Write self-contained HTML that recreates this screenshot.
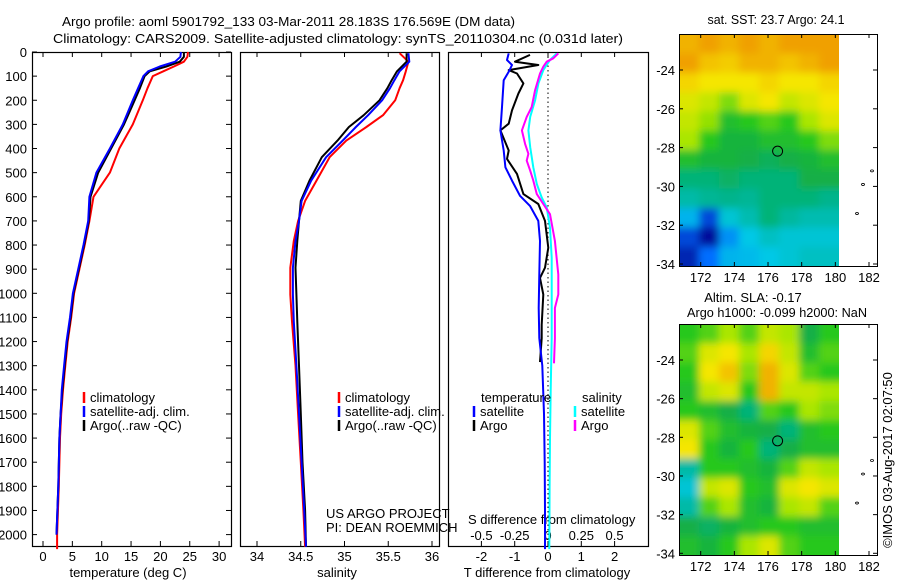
<!DOCTYPE html>
<html><head><meta charset="utf-8"><style>
html,body{margin:0;padding:0;background:#fff;}
svg text{font-family:"Liberation Sans",sans-serif;font-size:13px;fill:#000;}
</style></head><body>
<svg id="fig" width="900" height="580" viewBox="0 0 900 580" xmlns="http://www.w3.org/2000/svg">
<text x="62" y="26" textLength="453" lengthAdjust="spacingAndGlyphs">Argo profile: aoml 5901792_133 03-Mar-2011 28.183S 176.569E (DM data)</text>
<text x="53" y="43" textLength="570" lengthAdjust="spacingAndGlyphs">Climatology: CARS2009. Satellite-adjusted climatology: synTS_20110304.nc (0.031d later)</text>
<g id="p1"></g>
<g id="p2"></g>
<g id="p3"></g>
<g id="m1"></g>
<g id="m2"></g>
<text x="776" y="24" text-anchor="middle" textLength="137" lengthAdjust="spacingAndGlyphs">sat. SST: 23.7 Argo: 24.1</text>
<text x="753" y="302" text-anchor="middle">Altim. SLA: -0.17</text>
<text x="777" y="317" text-anchor="middle" textLength="180" lengthAdjust="spacingAndGlyphs">Argo h1000: -0.099 h2000: NaN</text>
<text transform="translate(892,460) rotate(-90)" text-anchor="middle">©IMOS 03-Aug-2017 02:07:50</text>
</svg>
<script>
// ---- data ----
const depthT = [0,20,40,60,80,100,150,200,300,400,500,600,700,800,900,1000,1100,1200,1300,1400,1500,1600,1800,2000,2060];
const climT  = [24.7,24.6,24.0,22.3,20.5,18.7,17.8,17.0,15.3,13.0,11.4,8.6,7.9,7.1,6.2,5.3,4.8,4.2,3.8,3.4,3.1,2.9,2.7,2.4,2.4];
const satT   = [23.5,23.4,22.5,19.9,17.9,17.1,16.2,15.3,13.6,11.4,9.1,7.9,7.7,6.9,6.0,5.1,4.6,4.0,3.6,3.2,3.0,2.8,2.6,2.3,2.3];
const argoT  = [24.0,24.0,23.3,21.0,18.2,17.3,16.5,15.6,13.8,11.6,9.4,8.1,7.8,7.0,6.1,5.2,4.7,4.1,3.7,3.3,3.0,2.8,2.6,2.3,2.3];
const depthS = [5,40,80,117,150,200,262,311,367,436,533,617,700,783,894,1005,1117,1300,1500,1700,1900,2050];
const climS  = [35.63,35.73,35.70,35.67,35.63,35.58,35.44,35.25,35.02,34.83,34.68,34.55,34.47,34.42,34.38,34.38,34.40,34.44,34.47,34.50,34.53,34.55];
const satS   = [35.73,35.74,35.63,35.57,35.52,35.43,35.27,35.13,34.98,34.79,34.62,34.51,34.48,34.44,34.41,34.41,34.42,34.45,34.48,34.51,34.54,34.56];
const argoS  = [35.71,35.71,35.60,35.54,35.49,35.40,35.22,35.05,34.92,34.74,34.60,34.50,34.48,34.46,34.44,34.45,34.46,34.48,34.50,34.52,34.55,34.56];
const depthDT = [6,33,54,82,117,228,325,408,478,533,596,638,700,783,922,1061,1186,1300,1500,1700,1900,2060];
const satDT   = [-1.18,-1.23,-1.08,-1.18,-1.33,-1.38,-1.43,-1.33,-1.28,-1.08,-0.84,-0.54,-0.29,-0.24,-0.26,-0.28,-0.26,-0.17,-0.12,-0.10,-0.09,-0.09];
const depthAT = [12,40,54,75,89,130,172,242,297,325,408,443,505,589,630,700,811,894,936,1005,1130,1186,1285];
const argoDT  = [-0.54,-0.99,-0.29,-1.18,-0.93,-0.74,-0.89,-1.08,-1.18,-1.43,-1.18,-1.23,-0.93,-0.74,-0.29,-0.09,0.01,-0.09,-0.24,-0.14,-0.19,-0.19,-0.24];
const depthDS = [6,33,75,130,200,269,325,394,478,547,603,644,728,853,1061,1186,1400,1600,1800,2060];
const satDS   = [0.065,0.015,-0.035,-0.072,-0.097,-0.134,-0.147,-0.134,-0.11,-0.084,-0.047,-0.01,0.015,0.028,0.028,0.028,0.02,0.015,0.012,0.01];
const depthAS = [6,26,40,61,89,158,228,269,325,381,422,450,492,533,589,630,672,783,922,1005,1061,1186,1290];
const argoDS  = [0.077,0.04,-0.01,-0.035,-0.06,-0.097,-0.122,-0.16,-0.196,-0.172,-0.147,-0.16,-0.134,-0.11,-0.084,-0.035,0.015,0.052,0.077,0.077,0.052,0.052,0.045];
const depthTicks = [0,100,200,300,400,500,600,700,800,900,1000,1100,1200,1300,1400,1500,1600,1700,1800,1900,2000];
const tTicks = [0,5,10,15,20,25,30];
const sTicks = [34,34.5,35,35.5,36];
const sTickLabels = ["34","34.5","35","35.5","36"];
const dtTicks = [-2,-1,0,1,2];
const dsTicks = [-0.5,-0.25,0,0.25,0.5];
const dsTickLabels = ["-0.5","-0.25","0","0.25","0.5"];
const lonTicks = [172,174,176,178,180,182];
const latTicks = [-24,-26,-28,-30,-32,-34];
const argoLon = 176.569, argoLat = -28.183;
const sstGrid = [
[.78,.80,.78,.80,.78,.80,.80,.80],
[.80,.76,.75,.78,.78,.76,.78,.80],
[.74,.72,.72,.72,.74,.72,.72,.74],
[.70,.68,.64,.70,.72,.68,.70,.72],
[.68,.65,.58,.60,.62,.60,.66,.70],
[.66,.60,.56,.56,.58,.58,.60,.64],
[.58,.56,.56,.55,.53,.55,.56,.58],
[.50,.50,.52,.50,.50,.50,.55,.55],
[.45,.47,.48,.47,.50,.50,.50,.48],
[.35,.20,.40,.44,.50,.46,.44,.44],
[.20,.12,.30,.38,.42,.40,.40,.40],
[.15,.25,.35,.36,.38,.40,.42,.42]];
const slaGrid = [
[.60,.62,.66,.62,.68,.66,.55,.60],
[.62,.70,.72,.66,.74,.68,.58,.62],
[.60,.72,.76,.64,.78,.70,.62,.60],
[.58,.68,.70,.60,.78,.68,.68,.66],
[.60,.58,.55,.50,.62,.60,.66,.64],
[.70,.62,.58,.56,.55,.50,.58,.60],
[.72,.60,.56,.60,.50,.55,.58,.58],
[.45,.60,.60,.58,.56,.62,.68,.66],
[.40,.68,.70,.60,.58,.70,.72,.70],
[.45,.62,.66,.58,.56,.66,.68,.62],
[.55,.52,.56,.58,.60,.60,.58,.58],
[.58,.56,.60,.66,.70,.62,.60,.60]];

// ---- helpers ----
const NS = "http://www.w3.org/2000/svg";
function mk(parent, tag, attrs, txt){ const e=document.createElementNS(NS,tag); for(const k in attrs) e.setAttribute(k,attrs[k]); if(txt!==undefined) e.textContent=txt; parent.appendChild(e); return e; }
const TOP=52, BOT=546;
const yD = d => 52 + d*0.2413;
const xT = t => 43 + t*5.87;
const xS = s => 257 + (s-34)*87.5;
const xDT = v => 548 + v*33.3;
const xDS = v => 548 + v*133.2;

function frame(g, x0, x1, name){
  const r = mk(g,'rect',{x:x0+0.5,y:TOP+0.5,width:x1-x0,height:BOT-TOP,fill:'none',stroke:'#000','stroke-width':1.2});
  
  
}
function xticks(g, vals, labels, fx, ly, name){
  vals.forEach((v,i)=>{
    const x=fx(v);
    const a = mk(g,'line',{x1:x,x2:x,y1:TOP,y2:TOP+5,stroke:'#000'});
    
    
    const b = mk(g,'line',{x1:x,x2:x,y1:BOT-5,y2:BOT,stroke:'#000'});
    
    
    if(labels){
      const t = mk(g,'text',{x:x,y:ly,'text-anchor':'middle'},labels[i]);
      
      
    }
  });
}
function line(g, xs, ds, fx, color, name, w){
  const pts = xs.map((v,i)=> fx(v).toFixed(1)+','+yD(ds[i]).toFixed(1)).join(' ');
  const p = mk(g,'polyline',{points:pts,fill:'none',stroke:color,'stroke-width':w||2,'stroke-linejoin':'round'});
  
  
}
function legend(g, x, y, color, label, name){
  const l = mk(g,'line',{x1:x,x2:x,y1:y-6,y2:y+5,stroke:color,'stroke-width':2.5});
  
  
  if(label){
    const t = mk(g,'text',{x:x+6,y:y+4},label);
    
    
  }
}

// ---- panel 1 ----
const p1=document.getElementById('p1');
frame(p1,32,231,'temperature-frame');
depthTicks.forEach(d=>{
  const y=yD(d);
  const a = mk(p1,'line',{x1:32,x2:37,y1:y,y2:y,stroke:'#000'});
  
  
  const b = mk(p1,'line',{x1:226,x2:231,y1:y,y2:y,stroke:'#000'});
  
  
  const t = mk(p1,'text',{x:27,y:y+5,'text-anchor':'end'},String(d));
  
  
});
xticks(p1,tTicks,tTicks.map(String),xT,561,'temperature');
const xl1 = mk(p1,'text',{x:128,y:577,'text-anchor':'middle'},'temperature (deg C)');


line(p1,climT,depthT,xT,'#ff0000','temperature-climatology-line');
line(p1,argoT.slice(0,24),depthT.slice(0,24),xT,'#000000','temperature-argo-line');
line(p1,satT.slice(0,24),depthT.slice(0,24),xT,'#0000ff','temperature-satellite-line');
legend(p1,84,398,'#ff0000','climatology','temp-legend-climatology');
legend(p1,84,412,'#0000ff','satellite-adj. clim.','temp-legend-satellite');
legend(p1,84,426,'#000000','Argo(..raw -QC)','temp-legend-argo');

// ---- panel 2 ----
const p2=document.getElementById('p2');
frame(p2,240,439,'salinity-frame');
xticks(p2,sTicks,sTickLabels,xS,561,'salinity');
const xl2 = mk(p2,'text',{x:337,y:577,'text-anchor':'middle'},'salinity');


line(p2,climS,depthS,xS,'#ff0000','salinity-climatology-line');
line(p2,argoS,depthS,xS,'#000000','salinity-argo-line');
line(p2,satS,depthS,xS,'#0000ff','salinity-satellite-line');
legend(p2,339,398,'#ff0000','climatology','sal-legend-climatology');
legend(p2,339,412,'#0000ff','satellite-adj. clim.','sal-legend-satellite');
legend(p2,339,426,'#000000','Argo(..raw -QC)','sal-legend-argo');
const us1 = mk(p2,'text',{x:326,y:518},'US ARGO PROJECT');


const us2 = mk(p2,'text',{x:326,y:532},'PI: DEAN ROEMMICH');



// ---- panel 3 ----
const p3=document.getElementById('p3');
frame(p3,448,648,'difference-frame');
xticks(p3,dtTicks,dtTicks.map(String),xDT,561,'t-difference');
dsTicks.forEach((v,i)=>{
  const t = mk(p3,'text',{x:xDS(v),y:540,'text-anchor':'middle'},dsTickLabels[i]);
  
  
});
const sdl = mk(p3,'text',{x:468,y:524},'S difference from climatology');


const tdl = mk(p3,'text',{x:547,y:577,'text-anchor':'middle'},'T difference from climatology');


const zl = mk(p3,'line',{x1:xDT(0),x2:xDT(0),y1:TOP,y2:BOT,stroke:'#000','stroke-dasharray':'1.5,3'});


line(p3,satDS,depthDS,xDS,'#00ffff','s-diff-satellite-line');
line(p3,argoDS,depthAS,xDS,'#ff00ff','s-diff-argo-line');
line(p3,argoDT,depthAT,xDT,'#000000','t-diff-argo-line');
line(p3,satDT,depthDT,xDT,'#0000ff','t-diff-satellite-line');
const lt = mk(p3,'text',{x:481,y:402},'temperature');


const ls = mk(p3,'text',{x:582,y:402},'salinity');


legend(p3,474,412,'#0000ff','satellite','diff-legend-t-satellite');
legend(p3,474,426,'#000000','Argo','diff-legend-t-argo');
legend(p3,575,412,'#00ffff','satellite','diff-legend-s-satellite');
legend(p3,575,426,'#ff00ff','Argo','diff-legend-s-argo');

// ---- maps ----
const cmapStops = [
 [0.10,[0,0,140]],[0.25,[0,110,255]],[0.38,[0,200,230]],[0.48,[0,180,140]],
 [0.55,[20,175,70]],[0.60,[40,200,30]],[0.66,[170,230,0]],[0.72,[245,230,0]],[0.80,[240,160,0]]];
function cmap(v){
  if(v<=cmapStops[0][0]) return 'rgb('+cmapStops[0][1].join(',')+')';
  for(let i=1;i<cmapStops.length;i++){
    if(v<=cmapStops[i][0]){
      const a=cmapStops[i-1], b=cmapStops[i], f=(v-a[0])/(b[0]-a[0]);
      return 'rgb('+a[1].map((c,k)=>Math.round(c+(b[1][k]-c)*f)).join(',')+')';
    }
  }
  return 'rgb('+cmapStops[cmapStops.length-1][1].join(',')+')';
}
function drawMap(id, grid, top, bottom, latTopPx, latPerDeg, name){
  const g=document.getElementById(id);
  const L=679,R=877,IR=839;
  const lonX = lon => 700.7 + (lon-172)*16.83;
  const latY = lat => latTopPx + (-24-lat)*latPerDeg;
  const cid='clip'+id;
  const defs=mk(g,'defs',{});
  const cp=mk(defs,'clipPath',{id:cid});
  mk(cp,'rect',{x:L,y:top,width:IR-L,height:bottom-top});
  const f=mk(defs,'filter',{id:'bl'+id,x:'-5%',y:'-5%',width:'110%',height:'110%'});
  mk(f,'feGaussianBlur',{stdDeviation:4});
  const img=mk(g,'g',{'clip-path':'url(#'+cid+')'});
  
  
  const inner=mk(img,'g',{filter:'url(#bl'+id+')'});
  const rows=grid.length, cols=grid[0].length;
  const cw=(IR-L)/cols, ch=(bottom-top)/rows;
  grid.forEach((row,ri)=>row.forEach((v,ci)=>{
    const c = mk(inner,'rect',{x:L+ci*cw-(ci===0?12:0),y:top+ri*ch-(ri===0?12:0),width:cw+1+(ci===0?12:0)+(ci===cols-1?12:0),height:ch+1+(ri===0?12:0)+(ri===rows-1?12:0),fill:cmap(v)});
    
    
  }));
  const fr=mk(g,'rect',{x:L+0.5,y:top+0.5,width:R-L,height:bottom-top,fill:'none',stroke:'#000'});
  
  
  lonTicks.forEach(lon=>{
    const x=lonX(lon);
    const a=mk(g,'line',{x1:x,x2:x,y1:top,y2:top+4,stroke:'#000'});
    
    
    const b=mk(g,'line',{x1:x,x2:x,y1:bottom-4,y2:bottom,stroke:'#000'});
    
    
    const t=mk(g,'text',{x:x,y:bottom+16,'text-anchor':'middle'},String(lon));
    
    
  });
  latTicks.forEach(lat=>{
    const y=latY(lat);
    const a=mk(g,'line',{x1:L,x2:L+4,y1:y,y2:y,stroke:'#000'});
    
    
    const b=mk(g,'line',{x1:R-4,x2:R,y1:y,y2:y,stroke:'#000'});
    
    
    const t=mk(g,'text',{x:L-4,y:y+5,'text-anchor':'end'},String(lat));
    
    
  });
  const m=mk(g,'circle',{cx:lonX(argoLon),cy:latY(argoLat),r:5,fill:'none',stroke:'#000','stroke-width':1});
  
  
  [[872,latY(-29.2)],[863,latY(-29.9)],[857,latY(-31.4)]].forEach(p=>{
    const d=mk(g,'ellipse',{cx:p[0],cy:p[1],rx:1.5,ry:1,fill:'none',stroke:'#000','stroke-width':0.8});
    
    
  });
}
drawMap('m1', sstGrid, 34, 266, 70, 19.4, 'sst-map');
drawMap('m2', slaGrid, 324, 555, 360, 19.33, 'sla-map');
</script>
</body></html>
